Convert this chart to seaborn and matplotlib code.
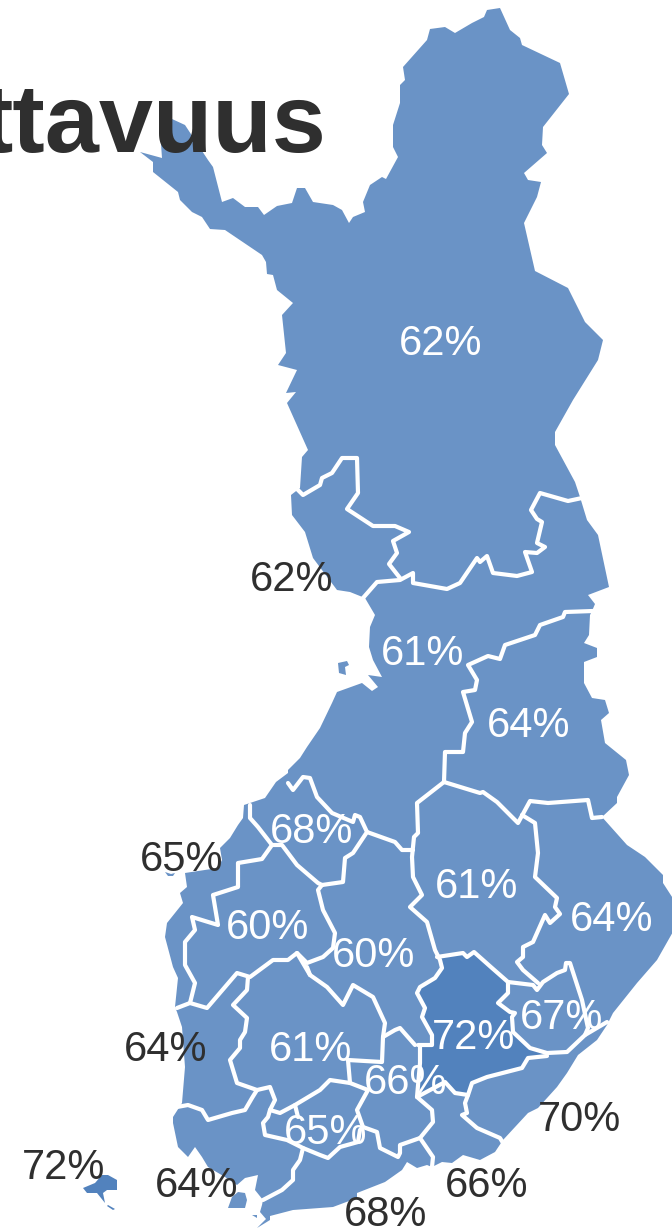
import matplotlib
matplotlib.use("Agg")
import matplotlib.pyplot as plt
import seaborn as sns

sns.set_theme(style="white")
plt.rcParams['font.family'] = ['Liberation Sans', 'DejaVu Sans']

# Region percentages and where each label sits on the map
label_text = ["62%","62%","61%","64%","68%","65%","60%","61%","64%","60%","67%","72%","61%","64%","66%","65%","70%","72%","64%","66%","68%"]
label_x = [441,292,423,529,312,182,268,477,612,374,562,474,311,166,406,326,579,64,197,487,386]
label_y = [344,580,654,726,832,860,928,887,920,956,1018,1038,1050,1050,1083,1133,1120,1168,1186,1186,1215]
label_dark = [0,1,0,0,0,1,0,0,0,0,0,0,0,1,0,0,1,1,1,1,1]

# Country outline
outline = [(500,8),(510,30),(520,38),(522,45),(560,63),(569,94),(543,127),(542,145),(547,153),(524,173),(528,180),(541,182),(537,197),(524,223),(535,271),(568,288),(585,322),(603,340),(598,360),(573,400),(555,432),(555,445),(575,482),(580,497),(587,520),(598,535),(609,587),(588,595),(595,604),(592,611),(590,615),(589,635),(584,643),(597,648),(597,657),(584,662),(584,683),(592,698),(605,700),(609,713),(601,720),(605,743),(626,760),(629,775),(617,797),(617,803),(602,817),(627,845),(645,857),(663,875),(663,883),(674,900),(674,930),(657,960),(637,983),(613,1013),(607,1025),(597,1040),(578,1055),(567,1073),(557,1087),(538,1108),(528,1113),(503,1140),(495,1152),(480,1160),(463,1155),(452,1163),(442,1162),(432,1167),(427,1165),(417,1168),(407,1162),(402,1170),(385,1182),(357,1193),(357,1198),(333,1207),(293,1210),(270,1216),(270,1220),(257,1228),(266,1219),(260,1212),(262,1205),(263,1200),(255,1190),(258,1175),(245,1178),(237,1185),(225,1177),(208,1167),(202,1157),(195,1147),(188,1157),(178,1147),(173,1123),(173,1117),(182,1103),(185,1067),(182,1027),(177,1012),(175,1007),(178,978),(173,967),(165,937),(167,923),(183,903),(180,893),(187,887),(185,873),(218,868),(222,860),(220,848),(230,838),(238,825),(243,818),(244,805),(253,802),(265,798),(276,782),(288,773),(288,770),(300,758),(307,747),(320,728),(332,703),(337,692),(362,683),(372,691),(378,687),(368,675),(382,677),(373,660),(369,647),(370,627),(375,615),(365,598),(350,592),(337,590),(313,558),(305,532),(292,515),(291,495),(300,488),(302,457),(308,450),(287,403),(296,392),(286,393),(297,370),(278,365),(286,353),(282,315),(293,303),(277,290),(273,275),(267,274),(266,262),(262,255),(225,230),(210,229),(202,217),(192,212),(180,200),(178,192),(153,172),(153,162),(140,152),(162,158),(160,130),(172,119),(185,125),(208,160),(213,167),(222,202),(233,198),(245,207),(258,207),(264,215),(277,206),(292,203),(297,188),(305,188),(313,202),(333,205),(342,210),(349,223),(353,217),(365,212),(363,202),(370,185),(382,177),(386,179),(398,157),(393,147),(393,125),(400,103),(400,85),(405,80),(403,67),(427,40),(430,29),(445,27),(455,33),(472,23),(484,17),(487,10)]
turku_island = [(238,1192),(245,1193),(247,1200),(245,1208),(228,1208),(232,1197)]
turku_sliver = [(252,1215),(257,1215),(257,1218)]
oulu_island = [(338,663),(347,661),(349,665),(345,667),(346,675),(339,673)]
vaasa_island = [(165,872),(168,876),(173,876),(175,873),(171,874)]
aland_main = [(83,1188),(95,1183),(102,1175),(108,1175),(117,1180),(117,1190),(107,1190),(103,1193),(105,1203),(97,1193),(87,1193)]
aland_small = [(108,1205),(115,1209),(113,1210),(107,1206)]
dark_region = [(437,957),(463,953),(467,957),(474,952),(492,968),(508,982),(508,993),(498,1003),(515,1013),(513,1032),(530,1048),(547,1056),(528,1058),(522,1068),(487,1077),(472,1083),(468,1095),(455,1093),(445,1082),(430,1090),(417,1097),(420,1063),(420,1045),(432,1045),(432,1035),(422,1017),(425,1008),(417,993),(420,987),(435,978),(442,968)]

# Internal borders
borders = [
 [(295,487),(303,495),(320,485),(322,478),(332,473),(342,458),(357,458),(358,493),(347,509),(373,526),(395,526),(409,532),(393,541),(397,553),(389,564),(400,578)],
 [(363,598),(377,582),(400,580),(413,573),(413,583),(447,589),(460,583),(477,558),(480,562),(487,556),(493,573),(517,576),(532,572),(525,552),(537,553),(545,547),(537,543),(542,522),(537,519),(531,510),(540,493),(568,501),(582,498)],
 [(593,611),(565,612),(563,617),(540,625),(535,635),(505,645),(500,659),(488,656),(468,665),(477,680),(475,690),(463,692),(472,722),(465,733),(463,752),(445,752),(444,782)],
 [(444,782),(480,793),(483,792),(497,802),(518,823),(530,801),(548,803),(588,800),(592,818),(602,817)],
 [(522,815),(535,823),(538,853),(535,877),(557,898),(555,907),(560,914),(550,923),(545,915),(533,942),(523,947),(523,957),(517,962),(523,970),(538,983)],
 [(444,782),(417,803),(418,833),(414,837),(412,857),(413,877),(422,895),(410,907),(427,922),(435,950),(440,960),(442,968),(435,978),(420,987),(417,993),(425,1008),(422,1017),(432,1035),(432,1045),(418,1045)],
 [(437,957),(463,953),(467,957),(474,952),(492,968),(508,982),(533,985),(537,990),(543,982),(557,973),(565,970),(566,963),(570,963),(582,1000),(588,1028),(585,1035)],
 [(508,982),(508,993),(498,1003),(510,1012),(515,1013),(512,1017),(513,1032),(530,1048),(547,1053),(567,1052),(585,1035),(607,1022)],
 [(547,1056),(528,1058),(522,1068),(487,1077),(472,1083),(468,1095),(455,1093),(445,1082),(417,1097),(432,1110),(433,1122),(420,1138),(433,1157),(432,1167)],
 [(468,1095),(465,1103),(467,1113),(462,1115),(477,1128),(500,1138),(503,1143)],
 [(420,1045),(420,1063),(417,1097)],
 [(420,1138),(400,1145),(400,1153),(398,1157),(380,1148),(377,1132),(363,1127),(357,1110),(368,1090),(350,1083),(348,1060),(382,1062),(383,1037),(395,1030),(400,1028),(415,1045)],
 [(383,1037),(385,1023),(373,997),(353,985),(343,1005),(327,987),(310,975),(297,953),(288,960),(273,960),(250,977),(237,973),(207,1008),(190,1003),(177,1008)],
 [(190,1003),(195,983),(185,965),(185,942),(195,930),(192,917),(218,925),(213,895),(238,887),(238,863),(262,859),(272,845),(282,845),(297,865),(318,883),(322,885)],
 [(272,845),(258,827),(250,818),(250,805)],
 [(288,783),(293,790),(303,777),(310,778),(317,797),(332,813),(353,822),(355,815),(360,817),(367,832),(353,853),(345,858),(343,882),(322,885)],
 [(367,832),(395,842),(402,850),(413,850)],
 [(322,885),(318,890),(323,910),(335,933),(333,948),(323,957),(307,963),(297,953)],
 [(307,967),(310,975)],
 [(248,977),(247,990),(233,1005),(247,1018),(245,1032),(240,1040),(240,1048),(230,1060),(237,1083),(257,1090),(270,1087),(275,1100),(270,1110),(280,1113),(295,1105),(320,1090),(330,1080),(350,1083)],
 [(295,1105),(298,1117)],
 [(177,1107),(188,1105),(202,1110),(208,1120),(232,1113),(245,1110),(252,1098),(257,1090)],
 [(270,1110),(268,1117),(263,1123),(265,1135),(287,1140),(303,1148),(320,1155),(328,1158),(340,1147),(358,1142),(360,1130),(363,1127)],
 [(303,1148),(300,1160),(293,1170),(293,1180),(282,1190),(263,1200)],
]

BLUE = "#6a93c6"
DARK_BLUE = "#5282bd"
INK = "#2f2f2f"

fig = plt.figure(figsize=(6.72, 12.29), dpi=100)
ax = fig.add_axes([0, 0, 1, 1])

for poly in [outline, turku_island, turku_sliver, oulu_island, vaasa_island]:
    ax.fill(*zip(*poly), color=BLUE, lw=0)
for poly in [dark_region, aland_main, aland_small]:
    ax.fill(*zip(*poly), color=DARK_BLUE, lw=0)

for line in borders:
    xs, ys = zip(*line)
    sns.lineplot(x=list(xs), y=list(ys), sort=False, estimator=None, color="white",
                 lw=3.0, ax=ax, solid_joinstyle="round", solid_capstyle="round", legend=False)

ax.set_xlim(0, 672)
ax.set_ylim(1229, 0)
ax.axis("off")

ax.text(327, 152, "ttavuus", ha="right", va="baseline", fontsize=70, fontweight="bold", color=INK)
for t, x, y, d in zip(label_text, label_x, label_y, label_dark):
    ax.text(x, y, t, ha="center", va="center", fontsize=30, color=INK if d else "white")

fig.savefig("out.png", dpi=100)
